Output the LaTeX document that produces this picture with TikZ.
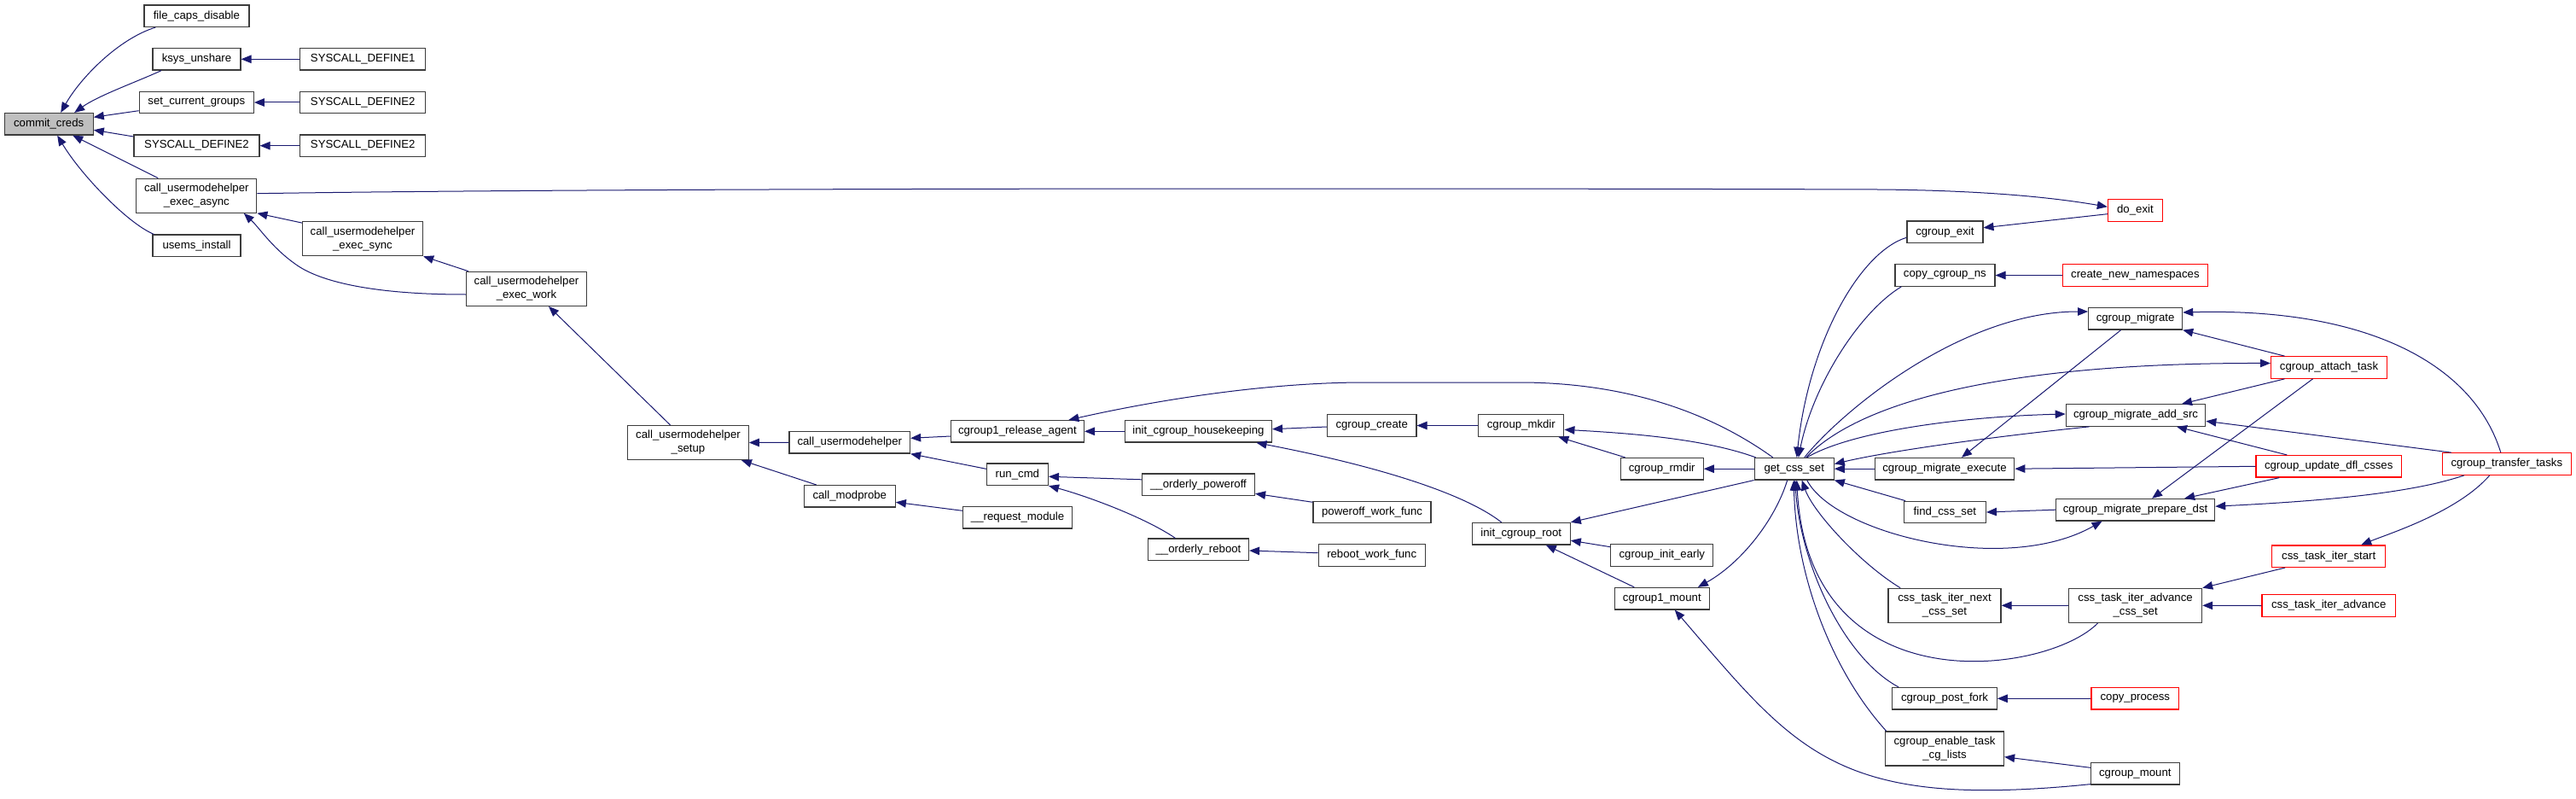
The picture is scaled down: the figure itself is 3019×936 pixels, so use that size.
\documentclass[tikz,border=0pt]{standalone}
\usepackage{fontspec}
\setmainfont{Liberation Sans}
\usetikzlibrary{arrows.meta}
\definecolor{mblue}{RGB}{25,25,112}
\definecolor{grey75}{RGB}{191,191,191}
\definecolor{bord}{RGB}{60,60,60}
\definecolor{rbord}{RGB}{255,0,0}
\newcommand{\fs}{\fontsize{13.2}{16}\selectfont}
\tikzset{
  nd/.style={draw=bord, line width=1.2pt, fill=white, inner sep=0pt, minimum height=25.5pt, font=\fs, align=center},
  rd/.style={nd, draw=rbord},
  two/.style={minimum height=40pt},
  e/.style={draw=mblue, line width=1pt, -{Triangle[length=12pt,width=9.5pt]}}
}
\begin{document}
\begin{tikzpicture}[x=1pt,y=-1pt]
\fill[white] (0,0) rectangle (3019,936);
\useasboundingbox (0,0) rectangle (3019,936);
% ---- nodes
\node[nd, fill=grey75, minimum width=104pt] (commit) at (57.2,145.3) {commit\_creds};
\node[nd, minimum width=123pt] (filecaps) at (230.4,18.7) {file\_caps\_disable};
\node[nd, minimum width=103pt] (ksys) at (230.5,69.3) {ksys\_unshare};
\node[nd, minimum width=147pt] (sysdef1) at (425.2,69.3) {SYSCALL\_DEFINE1};
\node[nd, minimum width=134pt] (setcur) at (230.3,120) {set\_current\_groups};
\node[nd, minimum width=147pt] (sysdefa) at (425.2,120) {SYSCALL\_DEFINE2};
\node[nd, minimum width=147pt] (sysdefm) at (230.5,170.7) {SYSCALL\_DEFINE2};
\node[nd, minimum width=147pt] (sysdefb) at (425.2,170.7) {SYSCALL\_DEFINE2};
\node[nd, two, minimum width=141pt] (async) at (230.3,229.2) {call\_usermodehelper\\\_exec\_async};
\node[nd, two, minimum width=141pt] (sync) at (425,279.7) {call\_usermodehelper\\\_exec\_sync};
\node[nd, minimum width=103pt] (usems) at (230.5,287.8) {usems\_install};
\node[nd, two, minimum width=141pt] (work) at (617,338.3) {call\_usermodehelper\\\_exec\_work};
\node[nd, two, minimum width=141.5pt] (setup) at (806.5,518.5) {call\_usermodehelper\\\_setup};
\node[nd, minimum width=141.5pt] (cum) at (995.8,518.3) {call\_usermodehelper};
\node[nd, minimum width=156pt] (release) at (1192.4,505.3) {cgroup1\_release\_agent};
\node[nd, minimum width=72pt] (runcmd) at (1192.4,555.8) {run\_cmd};
\node[nd, minimum width=107pt] (modprobe) at (995.8,581.3) {call\_modprobe};
\node[nd, minimum width=128pt] (reqmod) at (1192.6,606.3) {\_\_request\_module};
\node[nd, minimum width=172pt] (housekeep) at (1404.5,505.3) {init\_cgroup\_housekeeping};
\node[nd, minimum width=132pt] (poweroff) at (1404.5,567.8) {\_\_orderly\_poweroff};
\node[nd, minimum width=118pt] (reboot) at (1404.5,643.8) {\_\_orderly\_reboot};
\node[nd, minimum width=138pt] (pwf) at (1608,600) {poweroff\_work\_func};
\node[nd, minimum width=125pt] (rwf) at (1607.7,650.5) {reboot\_work\_func};
\node[nd, minimum width=104.5pt] (create) at (1607.7,498.5) {cgroup\_create};
\node[nd, minimum width=100pt] (mkdir) at (1782.8,498.5) {cgroup\_mkdir};
\node[nd, minimum width=115pt] (icroot) at (1782.7,625.2) {init\_cgroup\_root};
\node[nd, minimum width=97pt] (rmdir) at (1947.7,549.2) {cgroup\_rmdir};
\node[nd, minimum width=120pt] (initearly) at (1947.8,650.5) {cgroup\_init\_early};
\node[nd, minimum width=111pt] (c1mount) at (1947.8,701.2) {cgroup1\_mount};
\node[nd, minimum width=93pt] (getcss) at (2102.7,549.2) {get\_css\_set};
\node[rd, minimum width=64pt] (doexit) at (2502.4,246.5) {do\_exit};
\node[nd, minimum width=89pt] (cgexit) at (2279.4,271.8) {cgroup\_exit};
\node[nd, minimum width=117pt] (copyns) at (2279.4,322.5) {copy\_cgroup\_ns};
\node[rd, minimum width=170.5pt] (cnn) at (2502.4,322.5) {create\_new\_namespaces};
\node[nd, minimum width=110pt] (migrate) at (2502.6,373.3) {cgroup\_migrate};
\node[rd, minimum width=136pt] (attach) at (2729.5,430.5) {cgroup\_attach\_task};
\node[nd, minimum width=163.5pt] (addsrc) at (2503,486.5) {cgroup\_migrate\_add\_src};
\node[nd, minimum width=163.5pt] (execute) at (2279,549.2) {cgroup\_migrate\_execute};
\node[rd, minimum width=170.5pt] (updfl) at (2729.2,546.3) {cgroup\_update\_dfl\_csses};
\node[rd, minimum width=150.7pt] (transfer) at (2937.8,543.5) {cgroup\_transfer\_tasks};
\node[nd, minimum width=96pt] (findcss) at (2279.4,600) {find\_css\_set};
\node[nd, minimum width=186pt] (prepdst) at (2502.6,597.2) {cgroup\_migrate\_prepare\_dst};
\node[rd, minimum width=133pt] (itstart) at (2729.2,651.7) {css\_task\_iter\_start};
\node[nd, two, minimum width=132pt] (itnext) at (2279,709.3) {css\_task\_iter\_next\\\_css\_set};
\node[nd, two, minimum width=156pt] (itadvcs) at (2502.6,709.3) {css\_task\_iter\_advance\\\_css\_set};
\node[rd, minimum width=156.4pt] (itadv) at (2729.2,709.5) {css\_task\_iter\_advance};
\node[nd, minimum width=122.5pt] (postfork) at (2279,818.3) {cgroup\_post\_fork};
\node[rd, minimum width=102.6pt] (copyproc) at (2502.3,818.3) {copy\_process};
\node[nd, two, minimum width=139pt] (enable) at (2279,877) {cgroup\_enable\_task\\\_cg\_lists};
\node[nd, minimum width=103.7pt] (cgmount) at (2502.3,906.3) {cgroup\_mount};
% ---- edges
\draw[e] ([xshift=14pt]filecaps.south west) .. controls (140,45) and (95,90) .. ([xshift=14pt]commit.north);
\draw[e] ([xshift=10.7pt]ksys.south west) .. controls (160,96) and (115,112) .. ([xshift=30pt]commit.north);
\draw[e] ([yshift=-9.7pt]setcur.west) -- ([yshift=8pt]commit.east);
\draw[e] ([yshift=10.7pt]sysdefm.west) -- ([yshift=-7pt]commit.east);
\draw[e] ([xshift=-45pt]async.north) -- ([xshift=28pt]commit.south);
\draw[e] ([xshift=2pt]usems.north west) .. controls (150,262) and (95,205) .. ([xshift=10pt]commit.south);
\draw[e] (sysdef1.west) -- (ksys.east);
\draw[e] (sysdefa.west) -- (setcur.east);
\draw[e] (sysdefb.west) -- (sysdefm.east);
\draw[e] ([yshift=-2pt]sync.north west) -- (async.south east);
\draw[e] ([yshift=-6.7pt]work.west) .. controls (420,345) and (370,325) .. (350,312) .. controls (320,292) and (305,268) .. ([xshift=55.5pt]async.south);
\draw[e] ([xshift=3pt]work.north west) -- (sync.south east);
\draw[e] ([yshift=2.5pt]async.east) .. controls (800,219) and (1900,221) .. (2200,222) .. controls (2330,223) and (2410,232) .. ([yshift=4.2pt]doexit.west);
\draw[e] ([xshift=-21pt]setup.north) -- ([xshift=26pt]work.south);
\draw[e] (cum.west) -- (setup.east);
\draw[e] ([xshift=15pt]modprobe.north west) -- ([xshift=-9pt]setup.south east);
\draw[e] ([yshift=-5.7pt]release.west) -- ([yshift=5pt]cum.east);
\draw[e] ([yshift=6.5pt]runcmd.west) -- (cum.south east);
\draw[e] ([yshift=8pt]reqmod.west) -- ([yshift=-7pt]modprobe.east);
\draw[e] (housekeep.west) -- (release.east);
\draw[e] ([xshift=-25pt]getcss.north) .. controls (2000,480) and (1900,448) .. (1780,448) -- (1600,448) .. controls (1480,448) and (1350,470) .. ([xshift=60pt]release.north);
\draw[e] ([yshift=6pt]poweroff.west) -- ([yshift=-2.5pt]runcmd.east);
\draw[e] ([xshift=-27pt]reboot.north) .. controls (1340,605) and (1270,580) .. (runcmd.south east);
\draw[e] ([yshift=11.7pt]pwf.west) -- ([yshift=-10.5pt]poweroff.east);
\draw[e] ([yshift=2.8pt]rwf.west) -- ([yshift=-1.2pt]reboot.east);
\draw[e] ([yshift=-1.5pt]create.west) -- ([yshift=2.6pt]housekeep.east);
\draw[e] (mkdir.west) -- (create.east);
\draw[e] ([xshift=-23pt]icroot.north) .. controls (1715,577) and (1610,545) .. ([xshift=68pt]housekeep.south);
\draw[e] ([xshift=2pt]getcss.north west) .. controls (2000,515) and (1920,508) .. ([yshift=-4.8pt]mkdir.east);
\draw[e] ([xshift=6pt]rmdir.north west) -- ([xshift=-7pt]mkdir.south east);
\draw[e] (getcss.west) -- (rmdir.east);
\draw[e] (getcss.south west) -- (icroot.north east);
\draw[e] ([yshift=9.8pt]initearly.west) -- ([yshift=-8pt]icroot.east);
\draw[e] ([xshift=-32.5pt]c1mount.north) -- ([xshift=-29pt]icroot.south east);
\draw[e] ([xshift=-8pt]getcss.south) .. controls (2080,610) and (2040,660) .. ([xshift=-14pt]c1mount.north east);
\draw[e] ([yshift=1pt]cgmount.south west) .. controls (2151.6,949) and (2106,881) .. ([xshift=15pt]c1mount.south);
\draw[e] ([yshift=-6.5pt]cgexit.west) .. controls (2180,295) and (2120,400) .. ([xshift=3pt]getcss.north);
\draw[e] ([xshift=8pt]copyns.south west) .. controls (2180,365) and (2125,450) .. ([xshift=5pt]getcss.north);
\draw[e] ([xshift=12pt]getcss.north) .. controls (2160,480) and (2300,365) .. ([yshift=8.3pt]migrate.west);
\draw[e] ([xshift=14pt]getcss.north) .. controls (2180,470) and (2350,425) .. ([yshift=5pt]attach.west);
\draw[e] ([xshift=15pt]getcss.north) .. controls (2170,505) and (2300,488) .. ([yshift=1.5pt]addsrc.west);
\draw[e] ([xshift=28pt]addsrc.south west) .. controls (2350,510) and (2220,527) .. ([yshift=5.7pt]getcss.east);
\draw[e] (execute.west) -- (getcss.east);
\draw[e] ([xshift=2.3pt]findcss.north west) -- (getcss.south east);
\draw[e] ([xshift=15pt]getcss.south) .. controls (2150,625) and (2350,675) .. ([xshift=-39pt]prepdst.south);
\draw[e] ([xshift=-17pt]migrate.south) -- ([xshift=20pt]execute.north);
\draw[e] ([xshift=-52pt]attach.north) -- (migrate.south east);
\draw[e] ([xshift=-52pt]attach.south) -- ([xshift=54pt]addsrc.north);
\draw[e] ([xshift=-19pt]attach.south) -- ([xshift=19.5pt]prepdst.north);
\draw[e] ([xshift=-7pt]transfer.north) .. controls (2900,430) and (2780,360) .. ([yshift=7.3pt]migrate.east);
\draw[e] ([xshift=11pt]transfer.north west) -- ([yshift=-6.8pt]addsrc.east);
\draw[e] ([xshift=26pt]transfer.south west) .. controls (2820,580) and (2700,588) .. ([yshift=4pt]prepdst.east);
\draw[e] ([xshift=-20pt]transfer.south) .. controls (2880,600) and (2800,625) .. ([xshift=38pt]itstart.north);
\draw[e] ([xshift=-49pt]updfl.north) -- ([xshift=48pt]addsrc.south);
\draw[e] (updfl.west) -- (execute.east);
\draw[e] ([xshift=-58pt]updfl.south) -- ([xshift=57.5pt]prepdst.north);
\draw[e] (prepdst.west) -- (findcss.east);
\draw[e] ([yshift=-4.2pt]doexit.west) -- ([yshift=5pt]cgexit.east);
\draw[e] (cnn.west) -- (copyns.east);
\draw[e] ([xshift=14.7pt]itnext.north west) .. controls (2180,660) and (2125,600) .. ([xshift=9pt]getcss.south);
\draw[e] ([xshift=-44pt]itadvcs.south) .. controls (2400,790) and (2120,830) .. ([xshift=3pt]getcss.south);
\draw[e] ([xshift=8pt]postfork.north west) .. controls (2160,770) and (2110,660) .. ([xshift=1pt]getcss.south);
\draw[e] ([xshift=1.8pt]enable.north west) .. controls (2150,790) and (2105,680) .. ([xshift=-0.5pt]getcss.south);
\draw[e] (itadvcs.west) -- (itnext.east);
\draw[e] ([xshift=16pt]itstart.south west) -- (itadvcs.north east);
\draw[e] (itadv.west) -- (itadvcs.east);
\draw[e] (copyproc.west) -- (postfork.east);
\draw[e] ([yshift=7pt]cgmount.west) -- ([yshift=-9.7pt]enable.east);
\end{tikzpicture}
\end{document}
